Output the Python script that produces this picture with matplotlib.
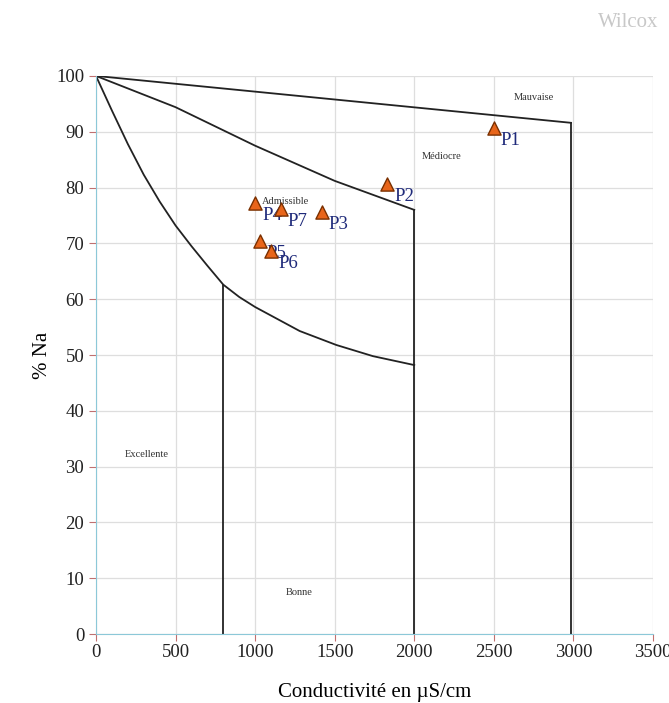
import matplotlib.pyplot as plt

plt.rcParams['font.family'] = ['Liberation Serif', 'DejaVu Serif']

# limites des classes (diagramme de Wilcox)
lim_mauvaise_x = [0, 2985]
lim_mauvaise_y = [100, 91.6]
lim_mediocre_x = [0, 500, 1000, 1500, 2000]
lim_mediocre_y = [100, 94.4, 87.5, 81.2, 76.0]
lim_bonne_x = [0, 100, 200, 300, 400, 500, 600, 700, 800, 900, 1000, 1280, 1510, 1740, 2000]
lim_bonne_y = [100, 93.8, 87.8, 82.3, 77.5, 73.2, 69.5, 66.0, 62.6, 60.4, 58.6, 54.3, 51.8, 49.8, 48.2]

# puits
noms = ['P1', 'P2', 'P3', 'P4', 'P5', 'P6', 'P7']
conductivite = [2500, 1830, 1420, 1000, 1030, 1100, 1160]
pct_na = [90.6, 80.6, 75.6, 77.3, 70.5, 68.6, 76.1]

classes = ['Mauvaise', 'Médiocre', 'Admissible', 'Excellente', 'Bonne']
classes_x = [2750, 2170, 1190, 320, 1280]
classes_y = [96.2, 85.5, 77.5, 32.2, 7.5]

fig = plt.figure(figsize=(6.69, 7.03), dpi=100)
ax = fig.add_axes([0.1435, 0.098, 0.8325, 0.794])

ax.plot(lim_mauvaise_x, lim_mauvaise_y, color='#222222', lw=1.3)
ax.plot([lim_mauvaise_x[-1], lim_mauvaise_x[-1]], [lim_mauvaise_y[-1], 0], color='#222222', lw=1.3)
ax.plot(lim_mediocre_x, lim_mediocre_y, color='#222222', lw=1.3)
ax.plot([lim_mediocre_x[-1], lim_mediocre_x[-1]], [lim_mediocre_y[-1], 0], color='#222222', lw=1.3)
ax.plot(lim_bonne_x, lim_bonne_y, color='#222222', lw=1.3)
ax.plot([800, 800], [62.6, 0], color='#222222', lw=1.3)

for nom, x, y in zip(classes, classes_x, classes_y):
    ax.text(x, y, nom, fontsize=7.5, color='#333333', ha='center', va='center')

ax.scatter(conductivite, pct_na, marker='^', s=90, color='#e8651a',
           edgecolors='#7a3000', linewidths=1, zorder=4)
for nom, x, y in zip(noms, conductivite, pct_na):
    ax.annotate(nom, (x, y), xytext=(5, -9), textcoords='offset points',
                fontsize=13.5, color='#1f2a7a', ha='left', va='center', zorder=3)

ax.set_xlim(0, 3500)
ax.set_ylim(0, 100)
ax.set_xticks(range(0, 3501, 500))
ax.set_yticks(range(0, 101, 10))
ax.grid(True, color='#dedede', lw=0.9)
ax.set_axisbelow(True)
for s in ['top', 'right']:
    ax.spines[s].set_visible(False)
for s in ['left', 'bottom']:
    ax.spines[s].set_color('#8cc8d8')
ax.tick_params(direction='out', length=5, color='#c07070', labelsize=13.5, labelcolor='#222222')
ax.tick_params(axis='x', pad=2)

ax.set_xlabel('Conductivité en µS/cm', fontsize=15, labelpad=16)
ax.set_ylabel('% Na', fontsize=15, labelpad=3)

fig.text(0.894, 0.962, 'Wilcox', fontsize=15, color='#c8c8c8')

plt.savefig('out.png', dpi=100)
